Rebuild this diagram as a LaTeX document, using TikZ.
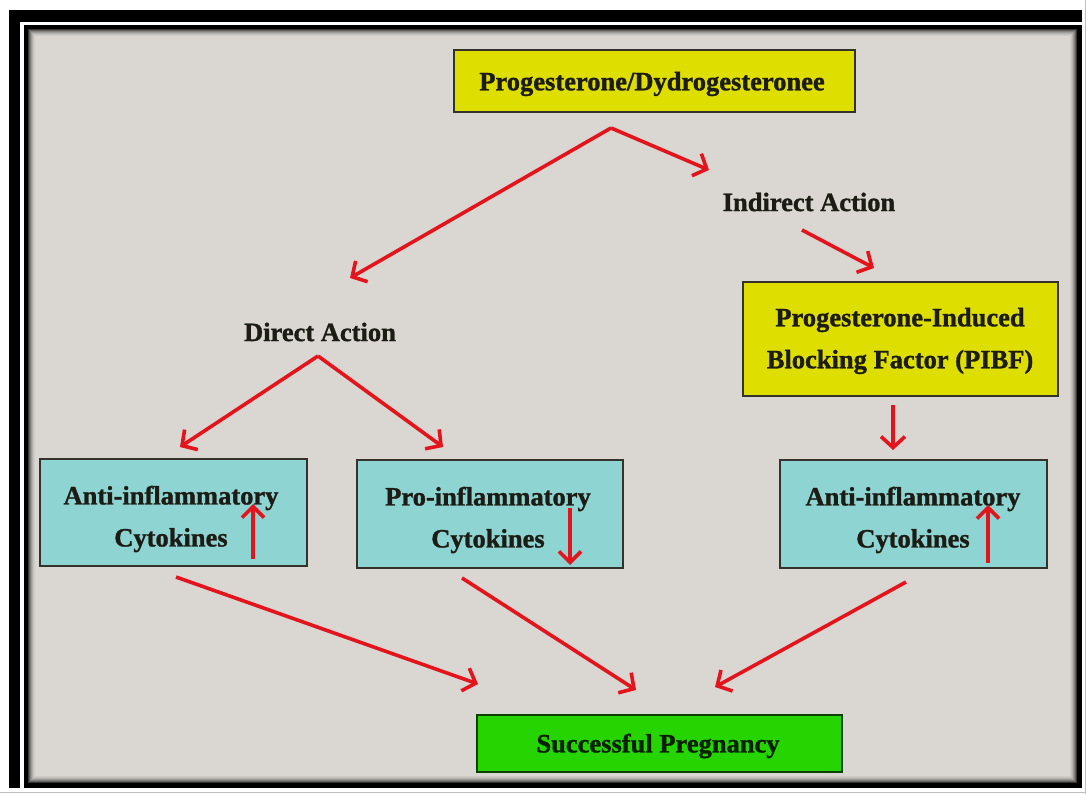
\documentclass[tikz,border=0pt]{standalone}
\usepackage{fontspec}
\setmainfont{Liberation Serif}[BoldFeatures={FakeBold=1.2}]
\usetikzlibrary{arrows.meta}
\definecolor{bg}{HTML}{DAD7D3}
\definecolor{ybox}{HTML}{DEDE00}
\definecolor{cbox}{HTML}{8ED4D2}
\definecolor{gbox}{HTML}{26D400}
\definecolor{arr}{HTML}{E3141B}
\definecolor{ink}{HTML}{1C1C14}
\begin{document}
\begin{tikzpicture}[x=1pt,y=-1pt,
  txt/.style={font=\fontsize{26.5}{42}\selectfont\bfseries, text=ink, align=center, inner sep=0pt},
  boxbase/.style={draw=ink!90, line width=2pt, inner sep=0pt},
  yellowbox/.style={boxbase, fill=ybox},
  cyanbox/.style={boxbase, fill=cbox},
  greenbox/.style={boxbase, fill=gbox, draw=black!70!gbox},
  redarrow/.style={draw=arr, line width=3.6pt, -{Straight Barb[length=11pt,width=24pt,line width=3.6pt]}},
  tickarrow/.style={draw=arr, line width=3.6pt, -{Straight Barb[length=11pt,width=22pt,line width=3.6pt]}}
]
\useasboundingbox (0,0) rectangle (1086,794);
% frame
\fill[white] (0,0) rectangle (1086,794);
\fill[black] (9,10) rectangle (1082,788);
\fill[white] (20,22) rectangle (1082,788);
\fill[black] (24,25) rectangle (1082,788);
\fill[bg] (28,29) rectangle (1077,783);
\foreach \i/\c in {0/75,1/55,2/40,3/28,4/18,5/10,6/5}{
  \draw[black!\c!bg, line width=1pt] (28.5+\i,29.5+\i) rectangle (1076.5-\i,782.5-\i);
}
\draw[black!25, line width=0.8pt] (1085.5,0) -- (1085.5,794);
\draw[black!25, line width=0.8pt] (0,792.5) -- (1086,792.5);

% boxes
\node[yellowbox, minimum width=401, minimum height=62] (top) at (654.5,81) {};
\node[txt] (toptext) at (652,84) {Progesterone/Dydrogesteronee};
\node[txt] (indirect) at (809,202) {Indirect Action};
\node[txt] (direct) at (320,332) {Direct Action};
\node[yellowbox, minimum width=315, minimum height=114] (pibf) at (900.5,339) {};
\node[txt] (pibftext) at (900,341) {Progesterone-Induced\\Blocking Factor (PIBF)};
\node[cyanbox, minimum width=267, minimum height=107] (antiL) at (173.5,512.5) {};
\node[txt] (antiLtext) at (171,519) {Anti-inflammatory\\Cytokines};
\node[cyanbox, minimum width=266, minimum height=108] (pro) at (490,514) {};
\node[txt] (protext) at (488,520) {Pro-inflammatory\\Cytokines};
\node[cyanbox, minimum width=267, minimum height=108] (antiR) at (913.5,514) {};
\node[txt] (antiRtext) at (913,520) {Anti-inflammatory\\Cytokines};
\node[greenbox, minimum width=365, minimum height=57] (preg) at (659.5,743.5) {};
\node[txt, text=black!85!gbox] (pregtext) at (658,746) {Successful Pregnancy};

% split points and arrow tips
\coordinate (s1) at (611,128);
\coordinate (t1a) at (350,278);
\coordinate (t1b) at (709,170);
\coordinate (s2) at (802,230);
\coordinate (t2) at (874,268);
\coordinate (s3) at (318,356);
\coordinate (t3a) at (180,447);
\coordinate (t3b) at (443,447);
\coordinate (t4) at (893,450);
\coordinate (s5a) at (176,577);
\coordinate (t5a) at (478,684);
\coordinate (s5b) at (462,578);
\coordinate (t5c) at (636,690);
\coordinate (s5c) at (906,582);
\coordinate (t5e) at (715,687);

\draw[redarrow] (s1) -- (t1a);
\draw[redarrow] (s1) -- (t1b);
\draw[redarrow] (s2) -- (t2);
\draw[redarrow] (s3) -- (t3a);
\draw[redarrow] (s3) -- (t3b);
\draw[redarrow] (pibf.south -| t4) ++(0,8) -- (t4);
\draw[redarrow] (s5a) -- (t5a);
\draw[redarrow] (s5b) -- (t5c);
\draw[redarrow] (s5c) -- (t5e);

% up/down indicator arrows
\draw[tickarrow] (253,559) -- (253,504);
\draw[tickarrow] (570,508) -- (570,565);
\draw[tickarrow] (988,563) -- (988,505);
\end{tikzpicture}
\end{document}
